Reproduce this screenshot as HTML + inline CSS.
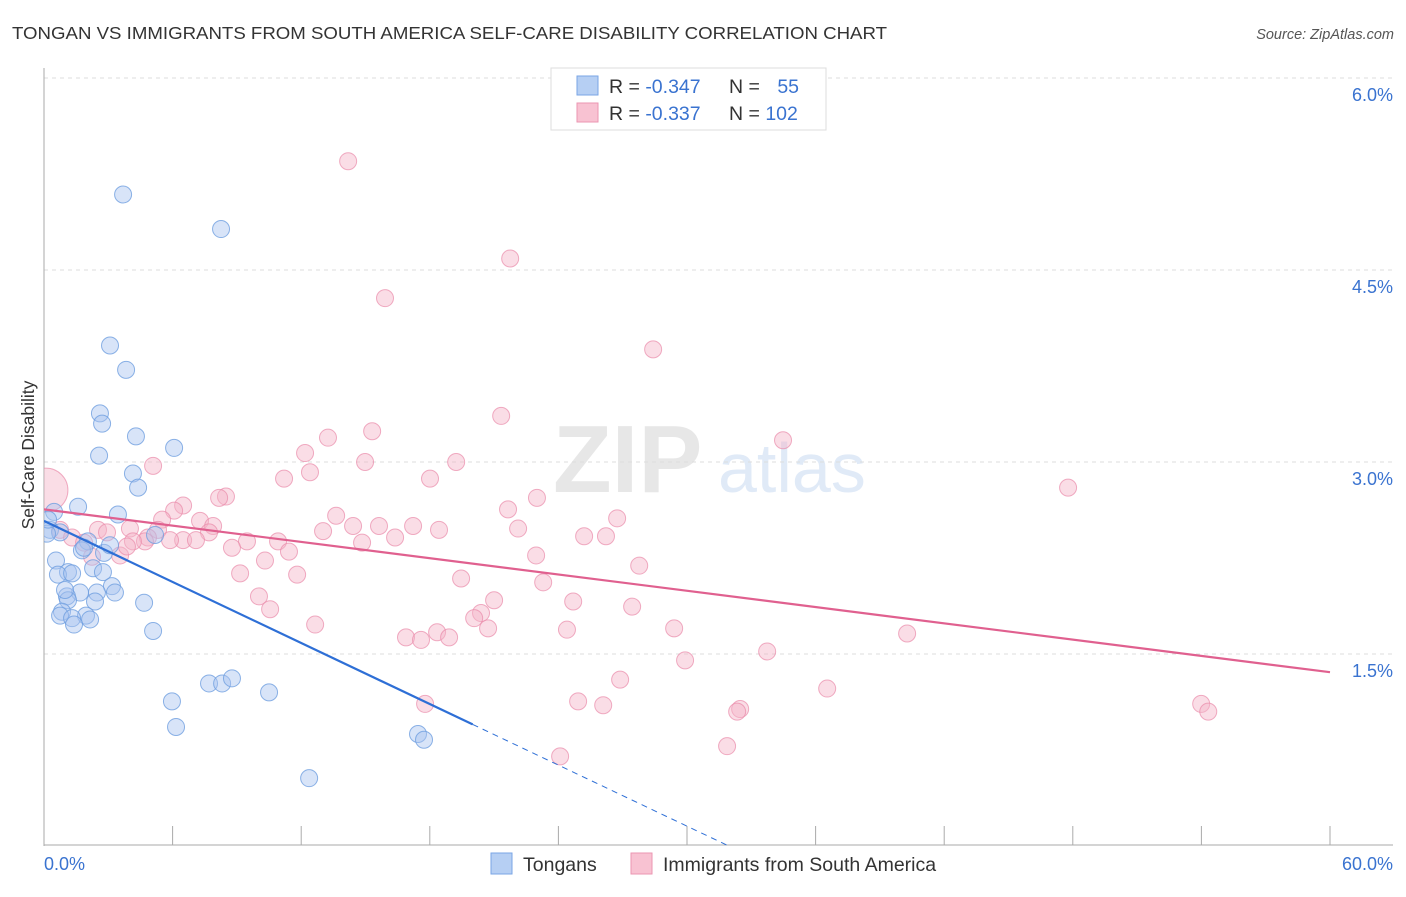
<!DOCTYPE html>
<html><head><meta charset="utf-8"><style>
body{margin:0;background:#fff;font-family:"Liberation Sans",sans-serif;}
svg text{font-family:"Liberation Sans",sans-serif;}
</style></head><body>
<svg id="chart" width="1406" height="892" viewBox="0 0 1406 892">
<defs><clipPath id="plotclip"><rect x="44" y="60" width="1360" height="786"/></clipPath></defs>
<text x="12" y="39" font-size="17.5" fill="#333" textLength="875" lengthAdjust="spacingAndGlyphs">TONGAN VS IMMIGRANTS FROM SOUTH AMERICA SELF-CARE DISABILITY CORRELATION CHART</text>
<text x="1394" y="39" font-size="14.5" fill="#555" font-style="italic" text-anchor="end">Source: ZipAtlas.com</text>
<g opacity="0.35">
<text x="553" y="492" font-size="96" font-family="Liberation Serif" fill="#bbb" font-weight="bold">ZIP</text>
<text x="718" y="492" font-size="70" fill="#a9c4ea">atlas</text>
</g>
<g id="grid"></g>
<g id="axes"></g>
<g id="marks" clip-path="url(#plotclip)"></g>
<text transform="translate(34,455) rotate(-90)" font-size="17.5" fill="#333" text-anchor="middle">Self-Care Disability</text>
<g>
<rect x="551" y="68" width="275" height="62" fill="#fff" stroke="#ddd"/>
<rect x="577" y="76" width="21" height="19" fill="#b6cff3" stroke="#7aa6e6"/>
<rect x="577" y="103" width="21" height="19" fill="#f8c2d2" stroke="#eb96b2"/>
<text x="609" y="93" font-size="19.5" fill="#333">R = <tspan fill="#3a73d0">-0.347</tspan></text>
<text x="729" y="93" font-size="19.5" fill="#333">N = <tspan fill="#3a73d0" dx="12">55</tspan></text>
<text x="609" y="120" font-size="19.5" fill="#333">R = <tspan fill="#3a73d0">-0.337</tspan></text>
<text x="729" y="120" font-size="19.5" fill="#333">N = <tspan fill="#3a73d0">102</tspan></text>
</g>
<g>
<rect x="491" y="853" width="21" height="21" fill="#b6cff3" stroke="#7aa6e6"/>
<text x="523" y="871" font-size="19.5" fill="#333">Tongans</text>
<rect x="631" y="853" width="21" height="21" fill="#f8c2d2" stroke="#eb96b2"/>
<text x="663" y="871" font-size="19.5" fill="#333">Immigrants from South America</text>
</g>
</svg>
<script>
const yTicks=[1.5,3.0,4.5,6.0];
const yTickLabels=["1.5%","3.0%","4.5%","6.0%"];
const xTickVals=[0,6,12,18,24,30,36,42,48,54,60];
const tonganX=[3.69,8.26,3.08,3.83,2.61,2.71,4.29,6.07,2.57,4.15,4.39,1.59,0.47,3.45,0.28,0.75,0.14,2.05,5.18,1.77,2.80,0.56,2.29,1.12,0.65,1.31,2.75,3.17,1.68,1.07,2.47,3.31,2.38,4.67,1.12,0.84,0.75,1.96,1.31,2.15,1.40,5.09,7.70,8.31,8.77,5.97,10.50,6.16,17.45,17.73,12.37,1.87,0.98,0.19,3.08];
const tonganY=[5.09,4.82,3.91,3.72,3.38,3.30,3.20,3.11,3.05,2.91,2.80,2.65,2.61,2.59,2.47,2.45,2.44,2.38,2.43,2.31,2.29,2.23,2.17,2.14,2.12,2.13,2.14,2.03,1.98,1.95,1.98,1.98,1.91,1.90,1.92,1.83,1.80,1.80,1.78,1.77,1.73,1.68,1.27,1.27,1.31,1.13,1.20,0.93,0.875,0.83,0.53,2.33,2.00,2.55,2.35];
const immX=[14.19,21.75,15.91,28.42,21.33,34.48,15.31,13.25,12.18,14.98,19.23,5.09,12.41,11.20,18.01,47.78,8.49,8.17,23.0,6.49,6.07,21.65,13.63,5.51,7.28,26.74,4.01,5.32,7.89,14.42,17.22,15.63,13.02,18.43,22.12,2.52,0.75,2.94,7.70,4.85,6.49,9.47,10.92,16.38,25.20,26.22,1.31,4.71,5.88,7.09,4.15,14.84,8.77,11.43,3.55,22.96,10.31,2.24,27.77,9.15,11.81,19.46,23.29,10.03,21.0,24.69,27.44,10.55,20.39,20.07,12.65,20.72,29.40,24.40,18.34,40.27,18.90,16.89,17.59,33.74,29.91,26.88,36.54,24.92,26.09,53.99,54.32,32.48,32.34,17.78,31.87,24.08,3.87,1.87,0.09];
const immY=[5.35,4.59,4.28,3.88,3.36,3.17,3.24,3.19,3.07,3.00,3.00,2.97,2.92,2.87,2.87,2.80,2.73,2.72,2.72,2.66,2.62,2.63,2.58,2.55,2.54,2.56,2.48,2.47,2.50,2.50,2.50,2.50,2.46,2.47,2.48,2.47,2.47,2.45,2.45,2.41,2.39,2.38,2.38,2.41,2.42,2.42,2.41,2.38,2.39,2.39,2.38,2.37,2.33,2.30,2.27,2.27,2.23,2.26,2.19,2.13,2.12,2.09,2.06,1.95,1.92,1.91,1.87,1.85,1.82,1.78,1.73,1.70,1.70,1.69,1.67,1.66,1.63,1.63,1.61,1.52,1.45,1.30,1.23,1.13,1.10,1.11,1.05,1.07,1.05,1.11,0.78,0.70,2.34,2.37,2.78];
const tonganTrend=[2.54,-0.0795];
const immTrend=[2.63,-0.0212];
const NS="http://www.w3.org/2000/svg";
const X=v=>44+v*(1286/60);
const Y=v=>846-v*128;
function mk(tag,attrs,parent){const e=document.createElementNS(NS,tag);for(const k in attrs)e.setAttribute(k,attrs[k]);parent.appendChild(e);return e;}
const grid=document.getElementById('grid'),axes=document.getElementById('axes'),marks=document.getElementById('marks');
yTicks.forEach((t,i)=>{
 const l=mk('line',{x1:44,x2:1393,y1:Y(t),y2:Y(t),stroke:'#ddd','stroke-dasharray':'4,4'},grid);
 
 
 const tx=mk('text',{x:1393,y:Y(t)+23,'font-size':18,fill:'#3a73d0','text-anchor':'end'},axes);
 tx.textContent=yTickLabels[i];
 
 
});
const ya=mk('line',{x1:44,x2:44,y1:68,y2:846,stroke:'#aaa'},axes);


const xa=mk('line',{x1:44,x2:1393,y1:845,y2:845,stroke:'#aaa'},axes);


xTickVals.forEach(t=>{
 const l=mk('line',{x1:X(t),x2:X(t),y1:826,y2:845,stroke:'#aaa'},axes);
 
 
});
const xl0=mk('text',{x:44,y:870,'font-size':18,fill:'#3a73d0'},axes);xl0.textContent='0.0%';


const xl1=mk('text',{x:1393,y:870,'font-size':18,fill:'#3a73d0','text-anchor':'end'},axes);xl1.textContent='60.0%';


immX.forEach((x,i)=>{
 const big=i===immX.length-1;
 const c=mk('circle',{cx:X(x),cy:Y(immY[i]),r:big?22:8.5,fill:'#f5b3c8','fill-opacity':0.45,stroke:'#e98aaa','stroke-opacity':0.7},marks);
 
 
});
tonganX.forEach((x,i)=>{
 const c=mk('circle',{cx:X(x),cy:Y(tonganY[i]),r:8.5,fill:'#a9c4f0','fill-opacity':0.45,stroke:'#6f9fe0','stroke-opacity':0.8},marks);
 
 
});
const ty=x=>tonganTrend[0]+tonganTrend[1]*x, iy=x=>immTrend[0]+immTrend[1]*x;
const t1=mk('line',{x1:X(0),y1:Y(ty(0)),x2:X(20),y2:Y(ty(20)),stroke:'#2e6fd6','stroke-width':2.2},marks);


const xEnd=-tonganTrend[0]/tonganTrend[1];
const t2=mk('line',{x1:X(20),y1:Y(ty(20)),x2:X(xEnd),y2:Y(0),stroke:'#2e6fd6','stroke-width':1,'stroke-dasharray':'6,5'},marks);


const t3=mk('line',{x1:X(0),y1:Y(iy(0)),x2:X(60),y2:Y(iy(60)),stroke:'#e0608f','stroke-width':2.2},marks);


</script>
</body></html>
